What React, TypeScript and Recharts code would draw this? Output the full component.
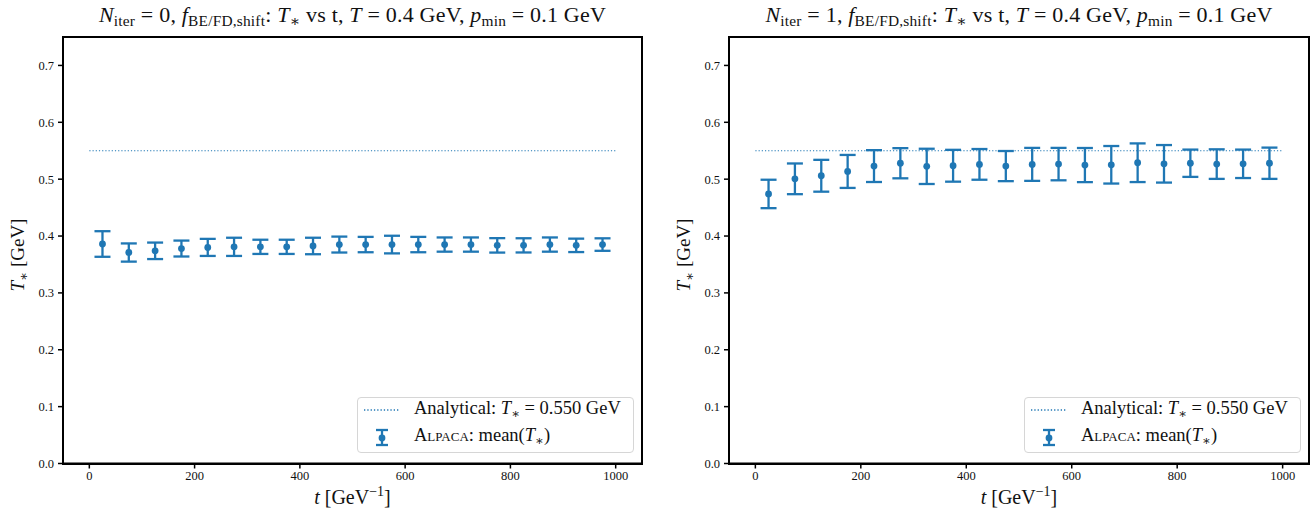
import React from "react";
import { ComposedChart, XAxis, YAxis, Line, Scatter, ErrorBar } from "recharts";

// time bins (GeV^-1)
const T_VALUES = [25, 75, 125, 175, 225, 275, 325, 375, 425, 475, 525, 575, 625, 675, 725, 775, 825, 875, 925, 975];

// N_iter = 0
const MEAN_ITER0 = [0.386, 0.371, 0.374, 0.378, 0.380, 0.381, 0.381, 0.381, 0.3825, 0.385, 0.385, 0.385, 0.385, 0.385, 0.385, 0.3836, 0.3836, 0.385, 0.3836, 0.385];
const ERR_ITER0 = [0.0225, 0.016, 0.0145, 0.014, 0.015, 0.016, 0.0125, 0.0125, 0.0145, 0.014, 0.0135, 0.0155, 0.0135, 0.0125, 0.0125, 0.0127, 0.0125, 0.0125, 0.0118, 0.011];

// N_iter = 1
const MEAN_ITER1 = [0.474, 0.5006, 0.506, 0.5136, 0.523, 0.528, 0.5225, 0.5236, 0.526, 0.523, 0.526, 0.5265, 0.5248, 0.5253, 0.5289, 0.527, 0.528, 0.5265, 0.527, 0.528];
const ERR_ITER1 = [0.025, 0.027, 0.028, 0.029, 0.028, 0.0265, 0.031, 0.028, 0.027, 0.0265, 0.029, 0.0285, 0.030, 0.033, 0.034, 0.033, 0.024, 0.026, 0.025, 0.0275];

const ANALYTICAL_T = [0, 1000];
const ANALYTICAL_VALUE = 0.55;

const X_TICKS = [0, 200, 400, 600, 800, 1000];
const Y_TICKS = [0, 0.1, 0.2, 0.3, 0.4, 0.5, 0.6, 0.7];

const BLUE = "#1f77b4";
const SERIF = "'Liberation Serif', 'DejaVu Serif', serif";
const H = 514;
const PLOT_TOP = 37;
const PLOT_BOTTOM = 463.5;

const sub = (s: string) => (
  <span style={{ fontSize: "0.7em", verticalAlign: "-0.28em", lineHeight: 0 }}>{s}</span>
);

function Dot(props: any) {
  return <circle cx={props.cx} cy={props.cy} r={3.4} fill={BLUE} />;
}

function Legend({ left, top }: { left: number; top: number }) {
  return (
    <div
      style={{
        position: "absolute", left, top, width: 277, height: 56, boxSizing: "border-box",
        border: "1px solid #d6d6d6", borderRadius: 4, background: "rgba(255,255,255,0.8)",
        fontFamily: SERIF, fontSize: 18.5, color: "#111",
      }}
    >
      <svg width={40} height={55} style={{ position: "absolute", left: 4, top: 0 }}>
        <line x1={2} x2={38} y1={12} y2={12} stroke={BLUE} strokeWidth={1.3} strokeDasharray="1.3 2" />
        <line x1={20} x2={20} y1={32} y2={47} stroke={BLUE} strokeWidth={2.3} />
        <line x1={14} x2={26} y1={32} y2={32} stroke={BLUE} strokeWidth={2.3} />
        <line x1={14} x2={26} y1={47} y2={47} stroke={BLUE} strokeWidth={2.3} />
        <circle cx={20} cy={40} r={3.4} fill={BLUE} />
      </svg>
      <div style={{ position: "absolute", left: 56, top: 0, whiteSpace: "nowrap" }}>
        Analytical: <i>T</i>{sub("∗")} = 0.550 GeV
      </div>
      <div style={{ position: "absolute", left: 56, top: 27, whiteSpace: "nowrap" }}>
        <span style={{ fontVariant: "small-caps" }}>Alpaca</span>: mean(<i>T</i>{sub("∗")})
      </div>
    </div>
  );
}

function Panel({ left, plotLeft, plotRight, iter, means, errs }: {
  left: number; plotLeft: number; plotRight: number; iter: number; means: number[]; errs: number[];
}) {
  const W = 656;
  const points = T_VALUES.map((t, i) => ({ t, v: means[i], e: errs[i] }));
  const line = ANALYTICAL_T.map((t) => ({ t, v: ANALYTICAL_VALUE }));
  const cx = (plotLeft + plotRight) / 2;
  const tick = { fontFamily: SERIF, fontSize: 12.5, fill: "#111" };
  return (
    <div style={{ position: "absolute", left, top: 0, width: W, height: H }}>
      <ComposedChart
        width={W}
        height={H}
        margin={{ top: PLOT_TOP, right: W - plotRight, bottom: H - PLOT_BOTTOM - 30, left: plotLeft - 40 }}
      >
        <XAxis xAxisId="b" type="number" dataKey="t" domain={[-50, 1050]} ticks={X_TICKS} height={30}
          tick={tick} tickSize={5} tickMargin={3} axisLine={{ stroke: "#000", strokeWidth: 2 }} tickLine={{ stroke: "#000", strokeWidth: 1.5 }} />
        <YAxis yAxisId="l" type="number" dataKey="v" domain={[0, 0.75]} ticks={Y_TICKS} width={40}
          tickFormatter={(v: number) => v.toFixed(1)}
          tick={tick} tickSize={5} tickMargin={4} axisLine={{ stroke: "#000", strokeWidth: 2 }} tickLine={{ stroke: "#000", strokeWidth: 1.5 }} />
        <Line xAxisId="b" yAxisId="l" data={line} dataKey="v" stroke={BLUE} strokeWidth={1.2}
          strokeDasharray="1.2 2" dot={false} isAnimationActive={false} />
        <Scatter xAxisId="b" yAxisId="l" data={points} dataKey="v" shape={Dot} isAnimationActive={false}>
          <ErrorBar dataKey="e" direction="y" width={8} stroke={BLUE} strokeWidth={2.3} isAnimationActive={false} />
        </Scatter>
      </ComposedChart>

      {/* axes frame */}
      <div style={{ position: "absolute", left: plotLeft - 1, top: PLOT_TOP - 1, width: plotRight - plotLeft + 2,
        height: PLOT_BOTTOM - PLOT_TOP + 2, boxSizing: "border-box", border: "2px solid #000", pointerEvents: "none" }} />

      <div style={{ position: "absolute", left: cx - 320, width: 640, top: 2, textAlign: "center",
        fontFamily: SERIF, fontSize: 22, letterSpacing: 0.2, color: "#111", whiteSpace: "nowrap" }}>
        <i>N</i>{sub("iter")} = {iter}, <i>f</i>{sub("BE/FD,shift")}: <i>T</i>{sub("∗")} vs t, <i>T</i> = 0.4 GeV, <i>p</i>{sub("min")} = 0.1 GeV
      </div>

      <div style={{ position: "absolute", left: cx - 100, width: 200, top: 486, textAlign: "center",
        fontFamily: SERIF, fontSize: 20, color: "#111", whiteSpace: "nowrap" }}>
        <i>t</i> [GeV<sup style={{ fontSize: "0.7em", lineHeight: 0 }}>−1</sup>]
      </div>

      <div style={{ position: "absolute", left: plotLeft - 45 - 100, top: (PLOT_TOP + PLOT_BOTTOM) / 2 - 6, width: 200,
        textAlign: "center", transform: "rotate(-90deg)", fontFamily: SERIF, fontSize: 19, color: "#111", whiteSpace: "nowrap" }}>
        <i>T</i>{sub("∗")} [GeV]
      </div>

      <Legend left={plotRight - 285} top={397} />
    </div>
  );
}

export default function App() {
  return (
    <div style={{ position: "absolute", left: 0, top: 0, width: 1312, height: H, background: "#fff" }}>
      <Panel left={0} plotLeft={63} plotRight={642} iter={0} means={MEAN_ITER0} errs={ERR_ITER0} />
      <Panel left={656} plotLeft={73} plotRight={653} iter={1} means={MEAN_ITER1} errs={ERR_ITER1} />
    </div>
  );
}
